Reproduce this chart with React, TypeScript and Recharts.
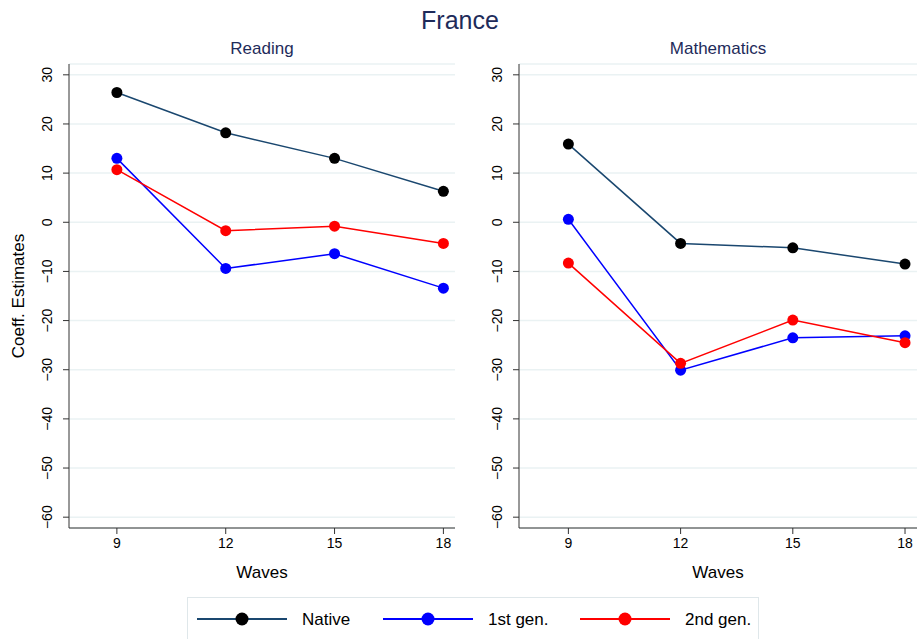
import { LineChart, Line, XAxis, YAxis, CartesianGrid } from "recharts";

const waves = [9, 12, 15, 18];
const yTicks = [-60, -50, -40, -30, -20, -10, 0, 10, 20, 30];

const readingNative = [26.4, 18.2, 13.0, 6.3];
const readingFirst = [13.0, -9.4, -6.4, -13.4];
const readingSecond = [10.7, -1.7, -0.8, -4.3];

const mathNative = [15.9, -4.3, -5.2, -8.5];
const mathFirst = [0.6, -30.1, -23.5, -23.1];
const mathSecond = [-8.3, -28.7, -19.9, -24.5];

const NAVY = "#1a476f";
const TITLE = "#1e2b5a";
const FONT = "'Liberation Sans', Arial, sans-serif";

const toRows = (native: number[], first: number[], second: number[]) =>
  waves.map((w, i) => ({ wave: w, native: native[i], first: first[i], second: second[i] }));

const readingData = toRows(readingNative, readingFirst, readingSecond);
const mathData = toRows(mathNative, mathFirst, mathSecond);

const fmt = (v: number) => (v < 0 ? `\u2212${-v}` : `${v}`);

const YTick = (props: any) => {
  const { x, y, payload } = props;
  return (
    <text
      transform={`translate(${x - 9},${y}) rotate(-90)`}
      textAnchor="middle"
      fontSize={14}
      fontFamily={FONT}
      fill="#000"
    >
      {fmt(payload.value)}
    </text>
  );
};

const XTick = (props: any) => {
  const { x, y, payload } = props;
  return (
    <text x={x} y={y + 12} textAnchor="middle" fontSize={14} fontFamily={FONT} fill="#000">
      {payload.value}
    </text>
  );
};

function Panel({ data, yWidth, width, marginRight }: any) {
  return (
    <LineChart
      width={width}
      height={600}
      data={data}
      margin={{ top: 64, right: marginRight, left: 0, bottom: 22 }}
    >
      <CartesianGrid vertical={false} stroke="#eaf2f3" strokeWidth={1.5} />
      <XAxis
        dataKey="wave"
        type="number"
        domain={[7.68, 18.32]}
        ticks={waves}
        height={50}
        stroke="#333"
        tickSize={6}
        tick={<XTick />}
        label={{ value: "Waves", position: "insideBottom", offset: 0, fontSize: 17, fontFamily: FONT, fill: "#000" }}
      />
      <YAxis
        type="number"
        domain={[-62.2, 32.2]}
        ticks={yTicks}
        width={yWidth}
        stroke="#333"
        tickSize={6}
        tickMargin={2}
        tick={<YTick />}
        allowDataOverflow
      />
      <Line dataKey="native" stroke={NAVY} strokeWidth={1.5} dot={{ r: 5.5, fill: "#000", stroke: "#000", strokeWidth: 0 }} isAnimationActive={false} />
      <Line dataKey="first" stroke="#0000ff" strokeWidth={1.5} dot={{ r: 5.5, fill: "#0000ff", stroke: "#0000ff", strokeWidth: 0 }} isAnimationActive={false} />
      <Line dataKey="second" stroke="#ff0000" strokeWidth={1.5} dot={{ r: 5.5, fill: "#ff0000", stroke: "#ff0000", strokeWidth: 0 }} isAnimationActive={false} />
    </LineChart>
  );
}

const legendItems = [
  { name: "Native", line: NAVY, dot: "#000", x: 197 },
  { name: "1st gen.", line: "#0000ff", dot: "#0000ff", x: 383 },
  { name: "2nd gen.", line: "#ff0000", dot: "#ff0000", x: 580 },
];

export default function App() {
  return (
    <div style={{ position: "absolute", left: 0, top: 0, width: 921, height: 639, background: "#fff", overflow: "hidden" }}>
      <div style={{ position: "absolute", left: 0, top: 0 }}>
        <Panel data={readingData} yWidth={69} width={460} marginRight={5} />
      </div>
      <div style={{ position: "absolute", left: 460, top: 0 }}>
        <Panel data={mathData} yWidth={59} width={461} marginRight={4} />
      </div>
      <svg width={921} height={639} style={{ position: "absolute", left: 0, top: 0, pointerEvents: "none" }} fontFamily={FONT}>
        <text x={460} y={29} textAnchor="middle" fontSize={25} fill={TITLE}>France</text>
        <text x={262} y={54} textAnchor="middle" fontSize={17} fill={TITLE}>Reading</text>
        <text x={718} y={54} textAnchor="middle" fontSize={17} fill={TITLE}>Mathematics</text>
        <text transform="translate(24,296) rotate(-90)" textAnchor="middle" fontSize={17} fill="#000">Coeff. Estimates</text>
        <rect x={187.5} y={597.5} width={571} height={50} fill="#fff" stroke="#dfe7ea" />
        {legendItems.map((it) => (
          <g key={it.name}>
            <line x1={it.x} x2={it.x + 90} y1={619} y2={619} stroke={it.line} strokeWidth={2} />
            <circle cx={it.x + 45} cy={619} r={6.5} fill={it.dot} />
            <text x={it.x + 105} y={625} fontSize={17} fill="#000">{it.name}</text>
          </g>
        ))}
      </svg>
    </div>
  );
}
